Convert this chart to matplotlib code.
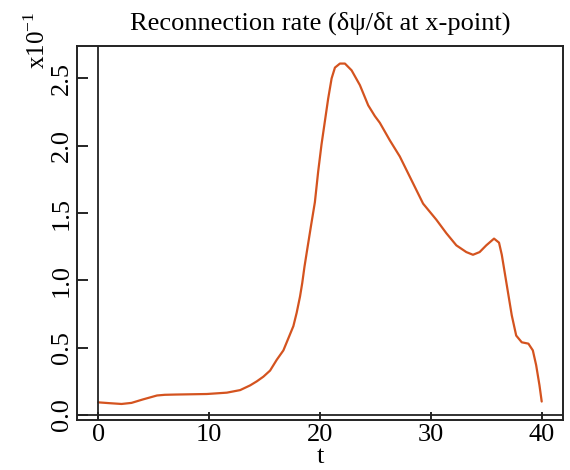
import matplotlib
matplotlib.use("Agg")
import matplotlib.pyplot as plt

# reconnection rate (units of 1e-1)
t_vals = [0, 1, 2.1, 3, 4, 5.3, 6, 7, 9.8, 11.6, 12.8, 13.7, 14.3, 14.9,
          15.5, 16.1, 16.7, 17.1, 17.6, 17.9, 18.2, 18.4, 18.6, 18.85, 19.2,
          19.54, 19.84, 20.14, 20.44, 20.74, 21.05, 21.35, 21.8, 22.25, 22.85,
          23.6, 24.35, 24.95, 25.4, 26.3, 27.2, 28.4, 29.3, 30.5, 31.4, 32.3,
          33.2, 33.8, 34.4, 35.0, 35.7, 36.15, 36.4, 36.7, 37.0, 37.3, 37.7,
          38.2, 38.8, 39.2, 39.5, 39.8, 40.0]
rate = [0.094, 0.088, 0.082, 0.09, 0.115, 0.145, 0.15, 0.152, 0.156, 0.166,
        0.185, 0.22, 0.25, 0.285, 0.33, 0.41, 0.48, 0.56, 0.66, 0.76, 0.88,
        0.98, 1.10, 1.23, 1.41, 1.58, 1.81, 2.01, 2.18, 2.35, 2.50, 2.58,
        2.61, 2.61, 2.56, 2.45, 2.30, 2.22, 2.17, 2.04, 1.92, 1.72, 1.57,
        1.45, 1.35, 1.26, 1.21, 1.19, 1.21, 1.26, 1.31, 1.28, 1.19, 1.04,
        0.89, 0.74, 0.59, 0.54, 0.53, 0.48, 0.37, 0.22, 0.10]

x_ticks = [0, 10, 20, 30, 40]
y_ticks = [0.0, 0.5, 1.0, 1.5, 2.0, 2.5]

plt.rcParams["font.family"] = ["Liberation Serif", "DejaVu Serif"]
plt.rcParams["mathtext.fontset"] = "custom"
plt.rcParams["mathtext.rm"] = "Liberation Serif"

fig = plt.figure(figsize=(5.7, 4.7), dpi=100)
ax = fig.add_axes([0.1356, 0.1064, 0.8521, 0.7956])

ax.plot(t_vals, rate, color="#d4531f", linewidth=1.6,
        solid_joinstyle="round", solid_capstyle="round")

# zero lines through the origin
ax.axhline(0, color="#222222", linewidth=1.3)
ax.axvline(0, color="#222222", linewidth=1.3)

ax.set_xlim(-1.89, 41.92)
ax.set_ylim(-0.037, 2.74)

ax.set_xticks(x_ticks)
ax.set_xticklabels([str(v) for v in x_ticks], fontsize=19)
ax.set_yticks(y_ticks)
ax.set_yticklabels([f"{v:.1f}" for v in y_ticks], fontsize=19,
                   rotation=90, va="center")
ax.tick_params(axis="x", direction="in", length=6, width=1.2, pad=3)
ax.tick_params(axis="y", direction="in", length=8, width=1.2, pad=3)

for sp in ax.spines.values():
    sp.set_linewidth(1.4)
    sp.set_color("#222222")

ax.set_title("Reconnection rate (δψ/δt at x-point)", fontsize=19, pad=12)
ax.set_xlabel("t", fontsize=19, labelpad=0)
fig.text(0.065, 0.915, r"x10$^{-1}$", rotation=90, fontsize=18,
         ha="center", va="center")

fig.savefig("out.png", dpi=100)
